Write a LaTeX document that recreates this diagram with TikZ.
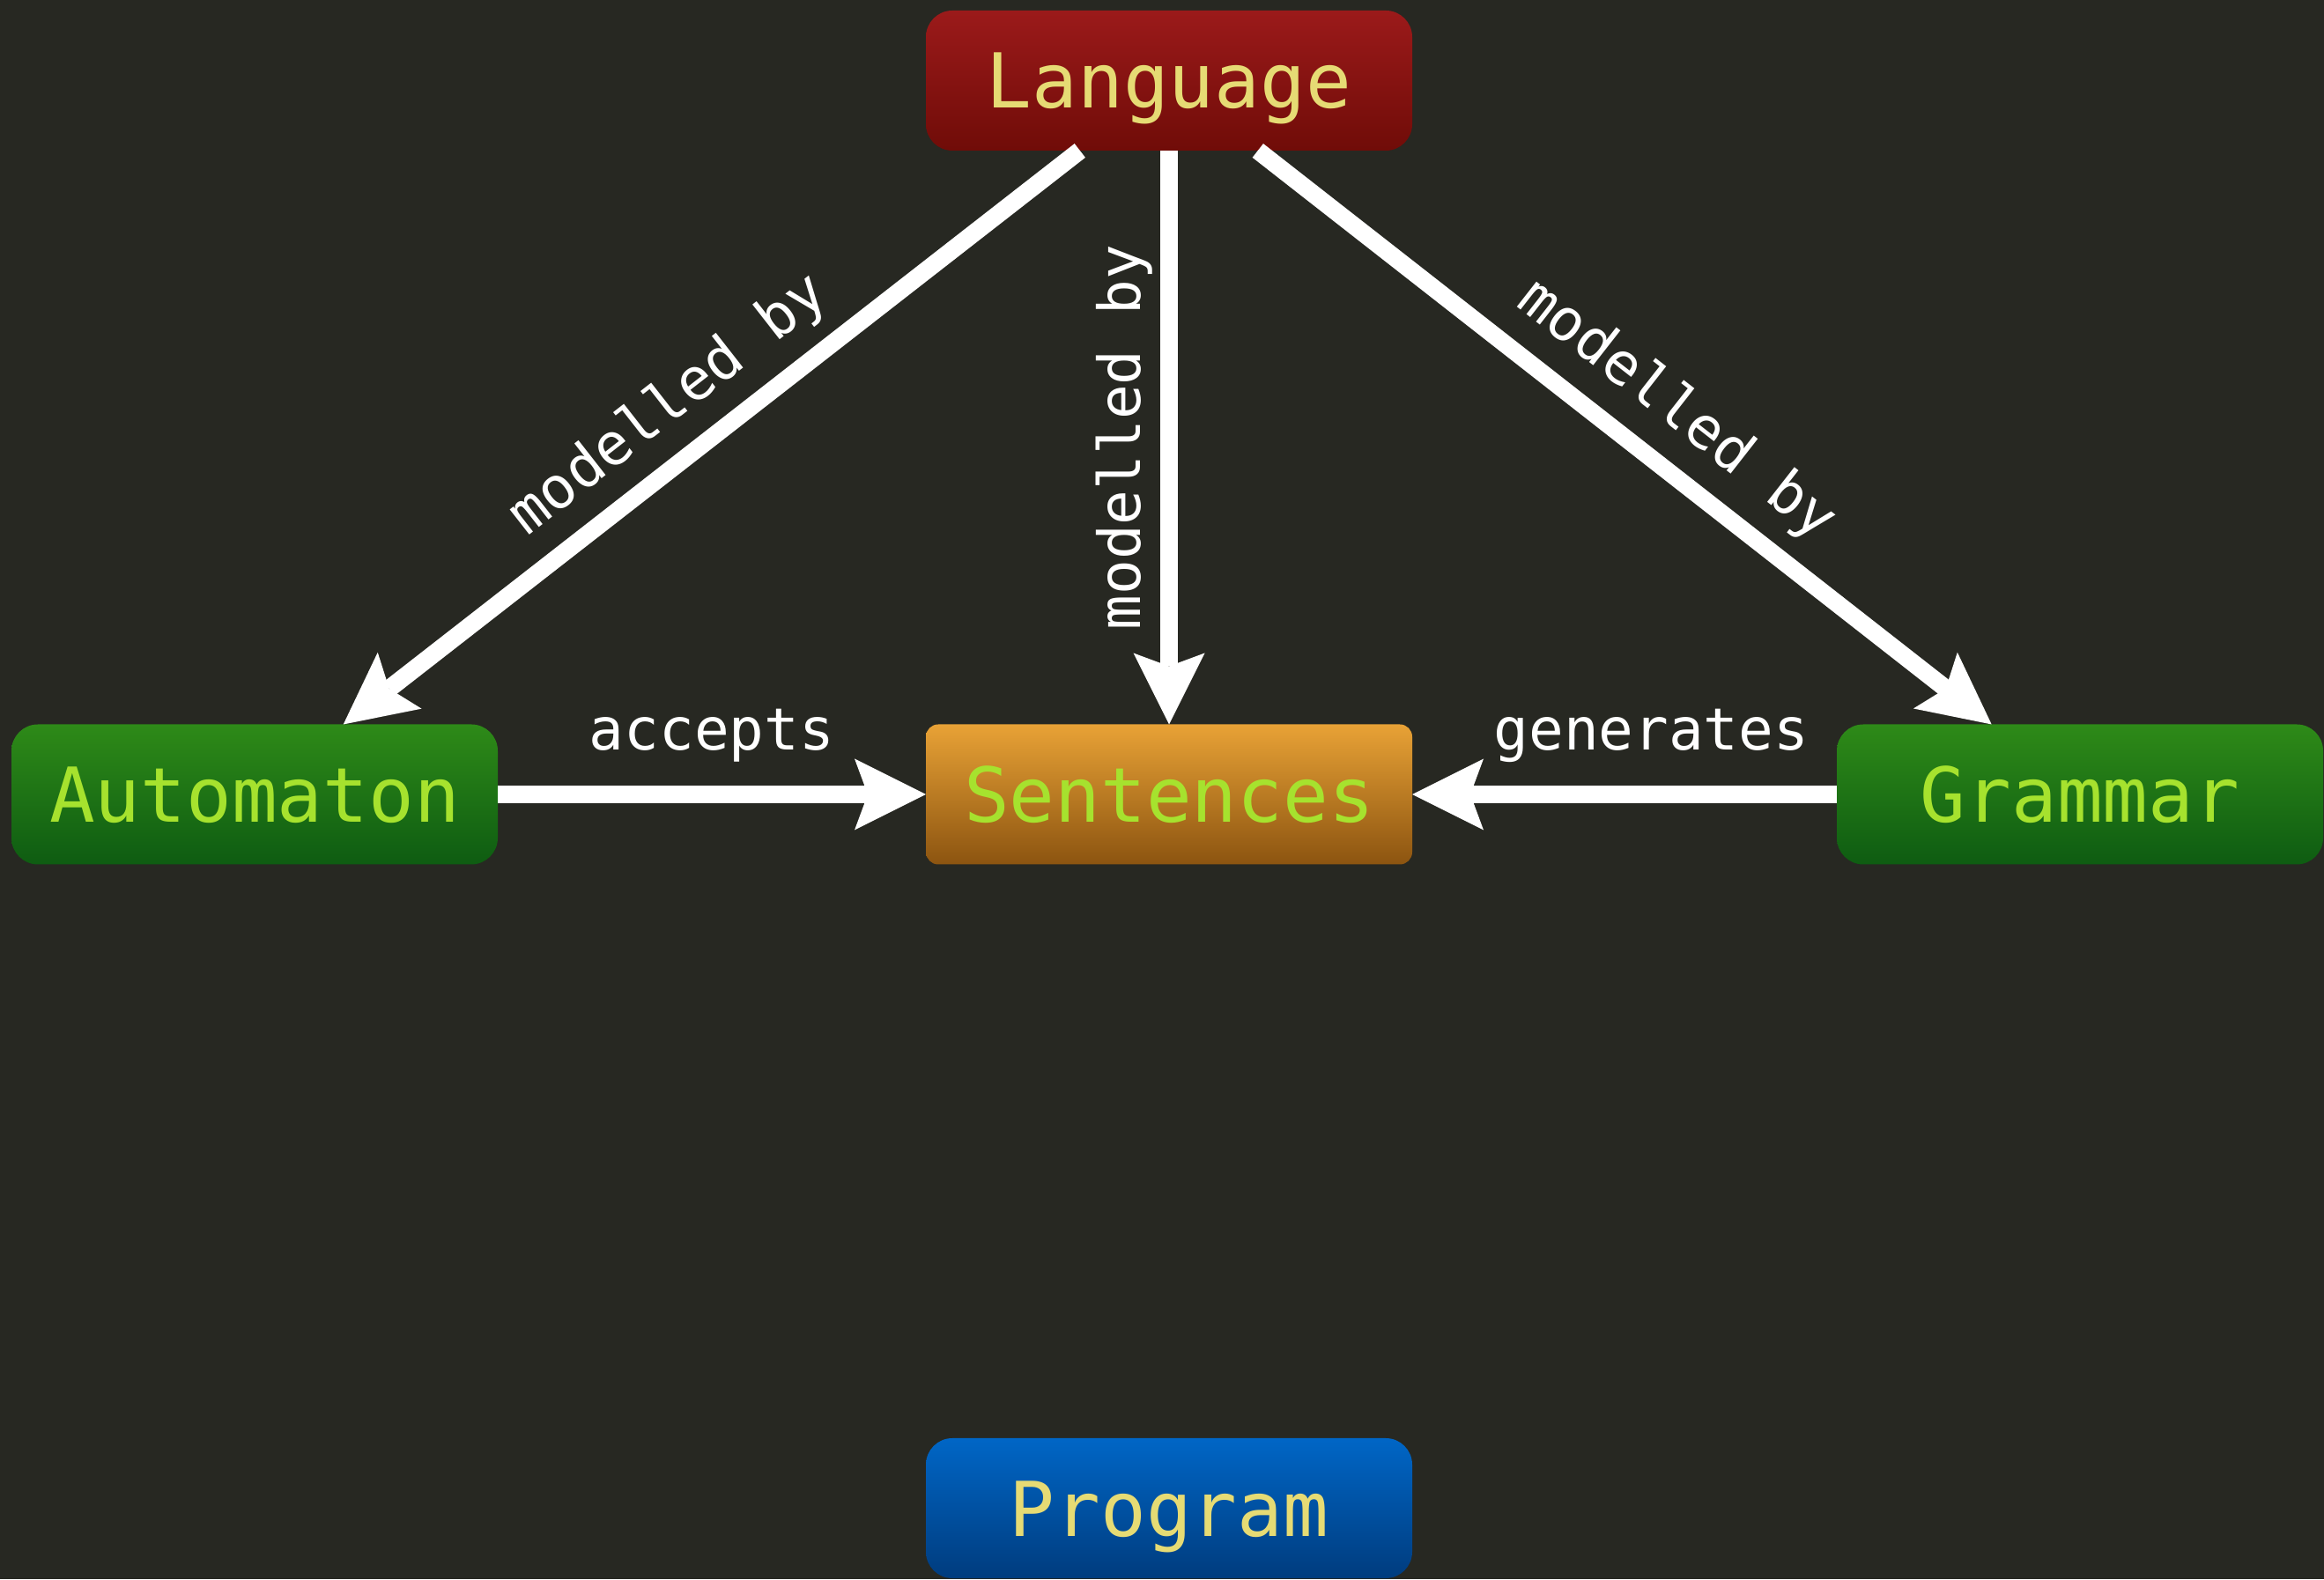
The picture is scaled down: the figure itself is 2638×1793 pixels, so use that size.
\documentclass[tikz,border=0pt]{standalone}
\usepackage{fontspec}
\newfontfamily\monof{DejaVu Sans Mono}
\usetikzlibrary{arrows.meta}

\definecolor{bg}{HTML}{272822}
\definecolor{txtyellow}{HTML}{E6DB74}
\definecolor{txtgreen}{HTML}{A6E22E}
\definecolor{redtop}{HTML}{9B1A1A}
\definecolor{redbot}{HTML}{700C08}
\definecolor{greentop}{HTML}{2E8A18}
\definecolor{greenbot}{HTML}{0E5C12}
\definecolor{orangetop}{HTML}{E8A236}
\definecolor{orangebot}{HTML}{8C5410}
\definecolor{bluetop}{HTML}{0066C6}
\definecolor{bluebot}{HTML}{003C7E}

\begin{document}
\begin{tikzpicture}[
  x=1pt, y=1pt,
  box/.style={minimum width=552pt, minimum height=159pt, inner sep=0pt,
    outer sep=0pt, rounded corners=30pt, text height=63pt, text depth=0pt,
    font=\monof\fontsize{86}{90}\selectfont},
  redbox/.style={box, top color=redtop, bottom color=redbot, text=txtyellow},
  greenbox/.style={box, top color=greentop, bottom color=greenbot, text=txtgreen},
  orangebox/.style={box, rounded corners=14pt, top color=orangetop, bottom color=orangebot, text=txtgreen},
  bluebox/.style={box, top color=bluetop, bottom color=bluebot, text=txtyellow},
  conn/.style={draw=white, line width=20pt,
    -{Stealth[length=81pt, width=81pt, inset=15pt, line width=0pt]}},
  lbl/.style={text=white, font=\monof\fontsize{66}{70}\selectfont,
    inner xsep=0pt, outer sep=0pt, text depth=0pt, anchor=south},
]
% canvas
\fill[bg] (0,0) rectangle (2638,1793);
\useasboundingbox (0,0) rectangle (2638,1793);

% nodes
\node[redbox]    (lang) at (1327,1701.5) {Language};
\node[greenbox]  (auto) at (289,891)     {Automaton};
\node[orangebox] (sent) at (1327,891)    {Sentences};
\node[greenbox]  (gram) at (2361,891)    {Grammar};
\node[bluebox]   (prog) at (1327,80.5)   {Program};

% connectors
\draw[conn] (lang) -- node[lbl, rotate=38, inner ysep=40pt, pos=0.515] {modelled by} (auto);
\draw[conn] (lang) -- node[lbl, rotate=90, inner ysep=33pt, pos=0.5] {modelled by} (sent);
\draw[conn] (lang) -- node[lbl, rotate=-38, inner ysep=42pt, pos=0.526] {modelled by} (gram);
\draw[conn] (auto) -- node[lbl, inner ysep=50pt, pos=0.5] {accepts} (sent);
\draw[conn] (gram) -- node[lbl, inner ysep=50pt, pos=0.437] {generates} (sent);
\end{tikzpicture}
\end{document}
